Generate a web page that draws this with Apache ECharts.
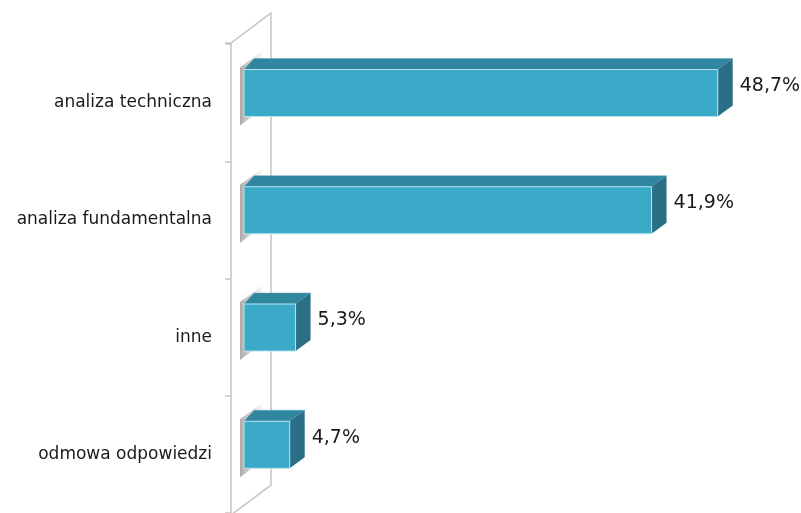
<!DOCTYPE html>
<html><head><meta charset="utf-8">
<script src="https://cdn.jsdelivr.net/npm/echarts@6/dist/echarts.min.js"></script>
<style>html,body{margin:0;padding:0;background:#fff}#c{width:801px;height:513px}</style>
</head><body><div id="c"></div>
<script>
const categories = ['analiza techniczna', 'analiza fundamentalna', 'inne', 'odmowa odpowiedzi'];
const values = [48.7, 41.9, 5.3, 4.7];
const valueLabels = ['48,7%', '41,9%', '5,3%', '4,7%'];

const chart = echarts.init(document.getElementById('c'), null, {renderer: 'canvas'});
const wallColor = '#cbc2be';
const option = {
  animation: false,
  backgroundColor: '#fff',
  grid: {left: 244, top: 44, width: 535, bottom: -4, containLabel: false},
  xAxis: {type: 'value', min: 0, max: 55, show: false},
  yAxis: {
    type: 'category', data: categories, inverse: true, offset: 13,
    axisLine: {show: true, onZero: false, lineStyle: {color: wallColor, width: 1.5}},
    axisTick: {show: true, length: 6, lineStyle: {color: wallColor, width: 1.5}},
    axisLabel: {margin: 19, color: '#1a1a1a', fontSize: 17, fontFamily: 'DejaVu Sans'}
  },
  graphic: [
    {type: 'polyline', shape: {points: [[225, 43], [231, 43], [271, 13], [271, 485], [231, 515]]},
     style: {stroke: wallColor, lineWidth: 1.5, fill: null}, z: 1}
  ],
  series: [{
    type: 'custom',
    data: values.map((v, i) => [v, i]),
    encode: {x: 0, y: 1},
    renderItem: function (params, api) {
      const v = api.value(0), i = api.value(1);
      const p0 = api.coord([0, i]);
      const p1 = api.coord([v, i]);
      const x0 = p0[0], x1 = p1[0];
      const yc = p0[1] - 9.6;
      const h = 47;
      const top = yc - h / 2, bottom = yc + h / 2;
      const dxR = 15, dxL = 10, dy = -11;
      return {
        type: 'group',
        children: [
          {type: 'polygon', shape: {points: [[240, bottom + 9], [240, top - 2], [263, top - 19], [263, bottom - 8]]},
           style: {fill: new echarts.graphic.LinearGradient(0, 0, 1, 0, [
             {offset: 0, color: 'rgba(120,112,108,0.6)'}, {offset: 0.5, color: 'rgba(160,152,148,0.4)'},
             {offset: 1, color: 'rgba(210,205,202,0.1)'}])}},
          {type: 'polygon', shape: {points: [[x0, top], [x1, top], [x1 + dxR, top + dy], [x0 + dxL, top + dy]]},
           style: {fill: '#2e879f', stroke: '#5fa9bd', lineWidth: 0.5}},
          {type: 'polygon', shape: {points: [[x1, top], [x1 + dxR, top + dy], [x1 + dxR, bottom + dy], [x1, bottom]]},
           style: {fill: '#2a6f86'}},
          {type: 'rect', shape: {x: x0, y: top, width: x1 - x0, height: h},
           style: {fill: '#3aaac8', stroke: '#b7e2ee', lineWidth: 1}},
          {type: 'text', x: x1 + dxR + 7, y: yc - 7,
           style: {text: valueLabels[i], fill: '#1a1a1a', fontSize: 19, fontFamily: 'DejaVu Sans',
                   verticalAlign: 'middle', align: 'left'}}
        ]
      };
    }
  }]
};
chart.setOption(option);
</script></body></html>
